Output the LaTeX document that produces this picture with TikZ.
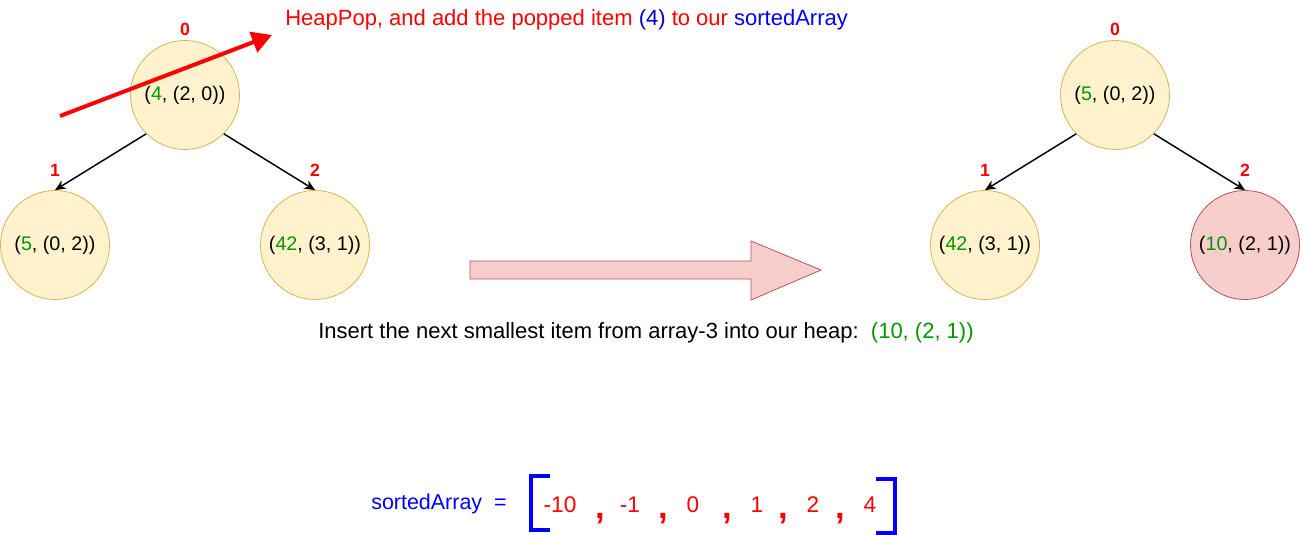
\documentclass[tikz,border=0pt]{standalone}
\usepackage{fontspec}
\setmainfont{Liberation Sans}
\usetikzlibrary{arrows.meta}
\definecolor{hfill}{HTML}{FFF2CC}
\definecolor{hdraw}{HTML}{D6B656}
\definecolor{pfill}{HTML}{F8CECC}
\definecolor{pdraw}{HTML}{B85450}
\definecolor{grn}{HTML}{009900}
\definecolor{rd}{HTML}{FF0000}
\definecolor{bl}{HTML}{0000FF}
\definecolor{dbl}{HTML}{0000CC}
\tikzset{
  heapnode/.style={circle, draw=hdraw, fill=hfill, line width=0.6pt, minimum size=81.75pt, inner sep=0pt, font=\fontsize{14.8}{17}\selectfont},
  newnode/.style={heapnode, draw=pdraw, fill=pfill},
  idx/.style={text=rd, font=\fontsize{13.3}{15}\selectfont\bfseries, inner sep=0pt},
  edge/.style={line width=1.1pt, -{Stealth[length=8pt,width=7pt]}},
  bigtxt/.style={font=\fontsize{16.5}{19}\selectfont, inner sep=0pt, anchor=west},
  num/.style={text=rd, font=\fontsize{17}{20}\selectfont, inner sep=0pt, anchor=base},
  comma/.style={text=rd, font=\fontsize{26}{28}\selectfont\bfseries, inner sep=0pt, anchor=north},
  brk/.style={draw=bl, line width=3pt}
}
\begin{document}
\begin{tikzpicture}[x=0.75pt,y=-0.75pt]
\useasboundingbox (0,0) rectangle (1306,535);
% left tree
\node[heapnode] (a0) at (185,95) {(\textcolor{grn}{4}, (2, 0))};
\node[heapnode] (a1) at (55,245) {(\textcolor{grn}{5}, (0, 2))};
\node[heapnode] (a2) at (315,245) {(\textcolor{grn}{42}, (3, 1))};
\node[idx] (la0) at (185,29.5) {0};
\node[idx] (la1) at (55,170) {1};
\node[idx] (la2) at (315,170) {2};
\draw[edge] (a0.225) -- (a1.north);
\draw[edge] (a0.-45) -- (a2.north);
% right tree
\node[heapnode] (b0) at (1115,95) {(\textcolor{grn}{5}, (0, 2))};
\node[heapnode] (b1) at (985,245) {(\textcolor{grn}{42}, (3, 1))};
\node[newnode] (b2) at (1245,245) {(\textcolor{grn}{10}, (2, 1))};
\node[idx] (lb0) at (1115,29.5) {0};
\node[idx] (lb1) at (985,170) {1};
\node[idx] (lb2) at (1245,170) {2};
\draw[edge] (b0.225) -- (b1.north);
\draw[edge] (b0.-45) -- (b2.north);
% pop arrow
\node[bigtxt, text=rd] (hdr) at (285,20) {HeapPop, and add the popped item \textcolor{dbl}{(4)} to our \textcolor{bl}{sortedArray}};
\coordinate (pt) at (60,116);
\coordinate (ph) at (272,35);
\draw[rd, line width=3pt, -{Triangle[length=15pt,width=16pt]}] (pt) -- (ph);
% block arrow
\draw[draw=pdraw, fill=pfill, line width=0.6pt] (470,261) -- (751,261) -- (751,241) -- (821,270) -- (751,300) -- (751,279) -- (470,279) -- cycle;
\node[bigtxt] (ins) at (318,333) {Insert the next smallest item from array-3 into our heap:\ \ \textcolor{grn}{(10, (2, 1))}};
% sorted array
\node[text=bl, font=\fontsize{16.1}{19}\selectfont, inner sep=0pt, anchor=base west] (sa) at (371,509) {sortedArray\ \ =};
\draw[brk] (550,476) -- (530.5,476) -- (530.5,530) -- (550,530);
\draw[brk] (876,478.5) -- (895,478.5) -- (895,532.5) -- (876,532.5);
\node[num] (n1) at (560,512) {-10};
\node[comma] (c1) at (600,513) {,};
\node[num] (n2) at (630,512) {-1};
\node[comma] (c2) at (663,513) {,};
\node[num] (n3) at (693,512) {0};
\node[comma] (c3) at (727,513) {,};
\node[num] (n4) at (757,512) {1};
\node[comma] (c4) at (783,513) {,};
\node[num] (n5) at (813,512) {2};
\node[comma] (c5) at (840,513) {,};
\node[num] (n6) at (870,512) {4};
\end{tikzpicture}
\end{document}
